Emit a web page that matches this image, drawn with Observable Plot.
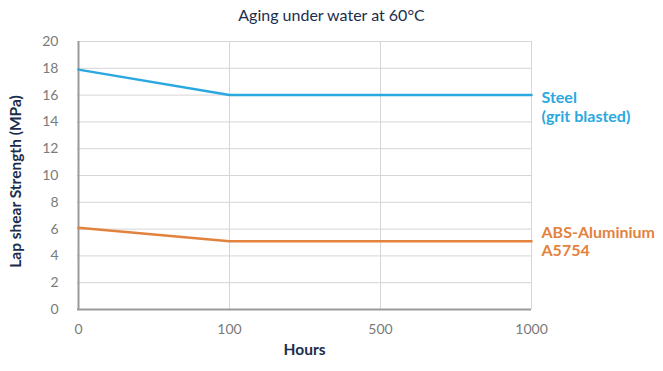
<!DOCTYPE html>
<html>
<head>
<meta charset="utf-8">
<script src="https://cdn.jsdelivr.net/npm/d3@7"></script>
<script src="https://cdn.jsdelivr.net/npm/@observablehq/plot@0.6"></script>
<style>
  body { margin: 0; background: #fff; font-family: Lato, "Open Sans", sans-serif; }
  #title { height: 30px; line-height: 30px; text-align: center; font-size: 16px; color: #1b2d4d; }
  svg { display: block; }
</style>
</head>
<body>
<div id="title">Aging under water at 60°C</div>
<div id="chart"></div>
<script>
const hours = ["0", "100", "500", "1000"];
const steel = [17.9, 16, 16, 16];
const abs = [6.1, 5.1, 5.1, 5.1];
const yTicks = [0, 2, 4, 6, 8, 10, 12, 14, 16, 18, 20];
const seriesNames = ["Steel\n(grit blasted)", "ABS-Aluminium\nA5754"];
const colors = ["#2aa8df", "#e3823d"];

const data = [];
hours.forEach((h, i) => {
  data.push({hours: h, value: steel[i], series: seriesNames[0]});
  data.push({hours: h, value: abs[i], series: seriesNames[1]});
});
const last = hours[hours.length - 1];

const plot = Plot.plot({
  width: 663,
  height: 341,
  marginTop: 11,
  marginBottom: 62,
  marginLeft: 77,
  marginRight: 132,
  style: {fontFamily: "Lato, 'Open Sans', sans-serif", background: "#fff", overflow: "visible"},
  x: {type: "point", domain: hours, padding: 0},
  y: {domain: [0, 20]},
  color: {domain: seriesNames, range: colors},
  marks: [
    Plot.ruleY(yTicks.filter(d => d > 0), {stroke: "#d6d6d6", strokeWidth: 1}),
    Plot.ruleX(hours.slice(1), {stroke: "#d6d6d6", strokeWidth: 1}),
    Plot.ruleY([0], {stroke: "#9a9a9a", strokeWidth: 2}),
    Plot.ruleX([hours[0]], {stroke: "#9a9a9a", strokeWidth: 2}),
    Plot.axisY({ticks: yTicks, tickSize: 0, tickPadding: 19, label: null, fontSize: 14, color: "#7a7a7a"}),
    Plot.axisX({tickSize: 0, tickPadding: 15, label: null, fontSize: 14, color: "#7a7a7a"}),
    Plot.line(data, {x: "hours", y: "value", z: "series", stroke: "series", strokeWidth: 2.5}),
    Plot.text(data.filter(d => d.hours === last && d.series === seriesNames[0]), {
      x: "hours", y: "value", text: "series", fill: "series", textAnchor: "start",
      lineAnchor: "middle", dx: 10, dy: 11, fontSize: 16, fontWeight: "bold", lineHeight: 1.2
    }),
    Plot.text(data.filter(d => d.hours === last && d.series === seriesNames[1]), {
      x: "hours", y: "value", text: "series", fill: "series", textAnchor: "start",
      lineAnchor: "middle", dx: 10, dy: 0, fontSize: 16, fontWeight: "bold", lineHeight: 1.1
    }),
    Plot.text(["Lap shear Strength (MPa)"], {
      frameAnchor: "left", textAnchor: "middle", rotate: -90, dx: -61, dy: 6, fontSize: 15.5, fontWeight: "bold", fill: "#1b2d4d"
    }),
    Plot.text(["Hours"], {
      frameAnchor: "bottom", dy: 45, fontSize: 15.5, fontWeight: "bold", fill: "#1b2d4d"
    })
  ]
});
document.getElementById("chart").appendChild(plot);
</script>
</body>
</html>
